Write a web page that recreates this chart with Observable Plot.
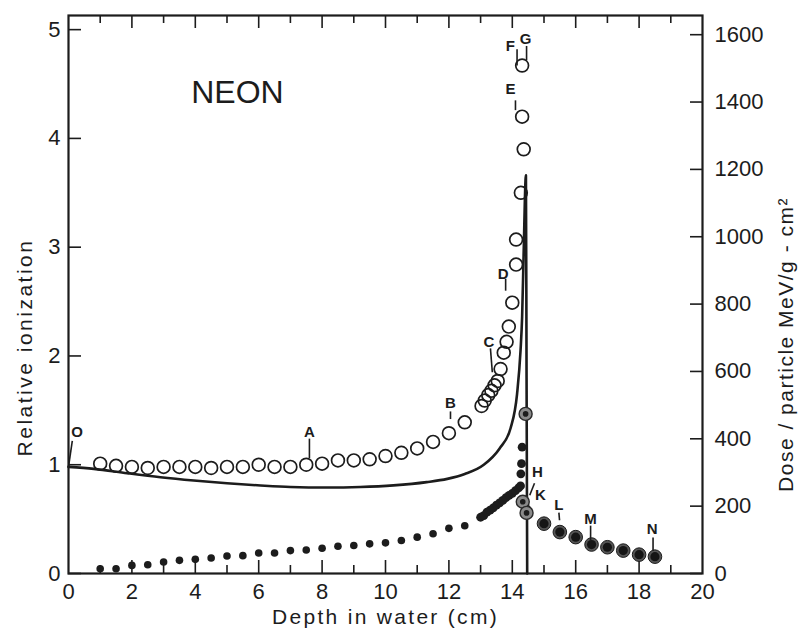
<!DOCTYPE html>
<html><head><meta charset="utf-8">
<script src="https://cdn.jsdelivr.net/npm/d3@7"></script>
<script src="https://cdn.jsdelivr.net/npm/@observablehq/plot@0.6"></script>
<style>
body{margin:0;background:#fff;}
</style></head><body><div id="chart"></div>
<script>
// ---- data ----
const xTickLabels = [0,2,4,6,8,10,12,14,16,18,20];
const yTickLabels = [0,1,2,3,4,5];
const doseTickLabels = [0,200,400,600,800,1000,1200,1400,1600];
const doseRatio = 323; // dose units per relative-ionization unit (right vs left axis)

// Relative ionization (open circles)
const ionX = [1,1.5,2,2.5,3,3.5,4,4.5,5,5.5,6,6.5,7,7.5,8,8.5,9,9.5,10,10.5,11,11.5,12,12.5,
  13.03,13.13,13.24,13.34,13.44,13.54,13.63,13.73,13.82,13.89,14.0,14.12,14.12,14.27,14.36,14.31,14.31];
const ionY = [1.01,0.99,0.98,0.97,0.98,0.98,0.98,0.97,0.98,0.98,1.0,0.98,0.98,1.0,1.01,1.04,1.04,1.05,1.08,1.11,1.15,1.21,1.29,1.39,
  1.54,1.59,1.64,1.68,1.73,1.77,1.88,2.03,2.13,2.27,2.49,2.84,3.07,3.5,3.9,4.2,4.67];

// Calculated curve (solid line)
const calcX = [0,0.8,1.85,2.9,3.95,5.0,6.06,7.0,8.16,9.2,10.25,11.3,11.95,12.5,13.1,13.6,13.95,14.15,14.26,14.31,14.36,14.43,14.45,14.47];
const calcY = [0.98,0.962,0.922,0.885,0.855,0.83,0.809,0.795,0.79,0.795,0.81,0.84,0.87,0.915,1.0,1.15,1.34,1.65,2.05,2.36,2.97,3.66,1.8,0];

// Dose per particle (filled dots), MeV/g-cm2
const doseEarlyX = [1,1.5,2,2.5,3,3.5,4,4.5,5,5.5,6,6.5,7,7.5,8,8.5,9,9.5,10,10.5,11,11.5,12,12.5];
const doseEarly = [14,14,24,26,34,39,42,46,52,53,61,61,68,70,75,81,83,88,91,98,108,118,134,142];
const doseRiseX = [13.0,13.1,13.2,13.3,13.4,13.5,13.6,13.7,13.8,13.9,14.0,14.1,14.2,14.26,14.27,14.29,14.31,14.4,14.47];
const doseRise = [167,172,182,188,195,203,210,217,225,232,238,246,254,260,296,326,375,200,190];
const doseHaloX = [14.42,14.33,14.45];
const doseHalo = [474,213,180];
const doseTailX = [15.0,15.5,16.0,16.5,17.0,17.5,18.0,18.5];
const doseTail = [148,123,108,86,78,68,56,50];

// Point labels
const labelText = ["O","A","B","C","D","E","F","G","H","K","L","M","N"];
const labelX = [0.27,7.6,12.05,13.26,13.71,13.94,13.94,14.42,14.79,14.89,15.47,16.47,18.41];
const labelY = [1.30,1.30,1.57,2.13,2.75,4.45,4.85,4.91,0.93,0.72,0.63,0.50,0.41];
const stemX1 = [0.0,7.6,12.05,13.31,13.79,14.1,14.15,14.45,14.55,15.47,16.47,18.44];
const stemY1 = [0.98,1.24,1.49,2.07,2.71,4.35,4.82,4.85,0.72,0.56,0.44,0.33];
const stemX2 = [0.12,7.6,12.05,13.37,13.79,14.1,14.15,14.45,14.7,15.49,16.47,18.44];
const stemY2 = [1.22,1.06,1.42,1.85,2.60,4.26,4.67,4.72,0.83,0.49,0.30,0.21];

const xTitle = "Depth in water (cm)";
const yTitle = "Relative ionization";
const y2Title = "Dose / particle MeV/g - cm\u00B2";

// ---- layout ----
const W = 804, H = 629, mL = 68, mR = 102, mT = 15, mB = 56;
const xDom = [0, 20], yDom = [0, 5.13];
const pxX = (W - mL - mR) / (xDom[1] - xDom[0]);
const pxY = (H - mT - mB) / (yDom[1] - yDom[0]);
const ink = "#1c1c1c";

const ion = ionX.map((x, i) => ({x, y: ionY[i]}));
const calc = calcX.map((x, i) => ({x, y: calcY[i]}));
const toPts = (xs, ds) => xs.map((x, i) => ({x, y: ds[i] / doseRatio}));
const dEarly = toPts(doseEarlyX, doseEarly);
const dRise = toPts(doseRiseX, doseRise);
const dHalo = toPts(doseHaloX, doseHalo);
const dTail = toPts(doseTailX, doseTail);
const labels = labelText.map((t, i) => ({t, x: labelX[i], y: labelY[i]}));
const stems = stemX1.map((x1, i) => ({x1, y1: stemY1[i], x2: stemX2[i], y2: stemY2[i]}));

const minorX = d3.range(1, 20);
const yTop = yDom[1];

const chart = Plot.plot({
  width: W, height: H,
  marginLeft: mL, marginRight: mR, marginTop: mT, marginBottom: mB,
  style: {fontFamily: "Liberation Sans, Arial, sans-serif", background: "#fff", color: ink},
  x: {domain: xDom},
  y: {domain: yDom},
  marks: [
    // inward ticks
    Plot.ruleX(minorX, {x: d => d, y1: 0, y2: d => (d % 2 === 0 ? 13 : 8) / pxY, stroke: ink, strokeWidth: 1.6}),
    Plot.ruleX(minorX, {x: d => d, y1: yTop, y2: d => yTop - (d % 2 === 0 ? 13 : 8) / pxY, stroke: ink, strokeWidth: 1.6}),
    Plot.ruleY(yTickLabels, {y: d => d, x1: 0, x2: 13 / pxX, stroke: ink, strokeWidth: 1.6}),
    Plot.ruleY(doseTickLabels, {y: d => d / doseRatio, x1: xDom[1] - 12 / pxX, x2: xDom[1], stroke: ink, strokeWidth: 1.6}),
    // axes labels
    Plot.axisX({anchor: "bottom", ticks: xTickLabels, tickSize: 0, tickPadding: 10, fontSize: 22, label: null, tickFormat: d => String(d), fill: ink}),
    Plot.axisY({anchor: "left", ticks: yTickLabels, tickSize: 0, tickPadding: 8, fontSize: 22, label: null, tickFormat: d => String(d), fill: ink}),
    Plot.axisY({anchor: "right", ticks: doseTickLabels.map(d => d / doseRatio), tickSize: 0, tickPadding: 12, fontSize: 22, label: null,
      tickFormat: d => String(Math.round(d * doseRatio)), fill: ink}),
    // calculated curve
    Plot.line(calc, {x: "x", y: "y", stroke: ink, strokeWidth: 2.6, curve: "monotone-x"}),
    // ionization circles
    Plot.dot(ion, {x: "x", y: "y", r: 6.4, stroke: ink, strokeWidth: 1.7, fill: "none"}),
    // dose dots
    Plot.dot(dEarly, {x: "x", y: "y", r: 3.8, fill: ink, stroke: "none"}),
    Plot.dot(dRise, {x: "x", y: "y", r: 4.4, fill: ink, stroke: "none"}),
    Plot.dot(dHalo, {x: "x", y: "y", r: 6.5, fill: "#8a8a8a", stroke: "#2a2a2a", strokeWidth: 1.4}),
    Plot.dot(dHalo, {x: "x", y: "y", r: 2.8, fill: ink, stroke: "none"}),
    Plot.dot(dTail, {x: "x", y: "y", r: 6.8, fill: "#555", stroke: ink, strokeWidth: 1}),
    Plot.dot(dTail, {x: "x", y: "y", r: 4.6, fill: "#151515", stroke: "none"}),
    // annotations
    Plot.link(stems, {x1: "x1", y1: "y1", x2: "x2", y2: "y2", stroke: ink, strokeWidth: 1.6}),
    Plot.text(labels, {x: "x", y: "y", text: "t", fontSize: 15, fontWeight: "bold", fill: ink}),
    Plot.text(["NEON"], {x: 5.33, y: 4.42, text: d => d, fontSize: 32, fill: ink}),
    // titles
    Plot.text([xTitle], {frameAnchor: "bottom", dy: 44, textAnchor: "middle", lineAnchor: "middle", text: d => d, fontSize: 21, fill: ink}),
    Plot.text([yTitle], {frameAnchor: "left", dx: -43, dy: 53, rotate: -90, textAnchor: "middle", lineAnchor: "middle", text: d => d, fontSize: 21, fill: ink}),
    Plot.text([y2Title], {frameAnchor: "right", dx: 84, dy: 50, rotate: -90, textAnchor: "middle", lineAnchor: "middle", text: d => d, fontSize: 21, fill: ink}),
    Plot.frame({stroke: ink, strokeWidth: 2.2})
  ]
});
document.getElementById("chart").appendChild(chart);
// widen the letter spacing of the axis titles, as in the reference
const spacing = {[xTitle]: "2.3px", [yTitle]: "2.5px", [y2Title]: "1.5px"};
d3.select(chart).selectAll("text").each(function() {
  const s = spacing[this.textContent];
  if (s) this.style.letterSpacing = s;
});
</script></body></html>
